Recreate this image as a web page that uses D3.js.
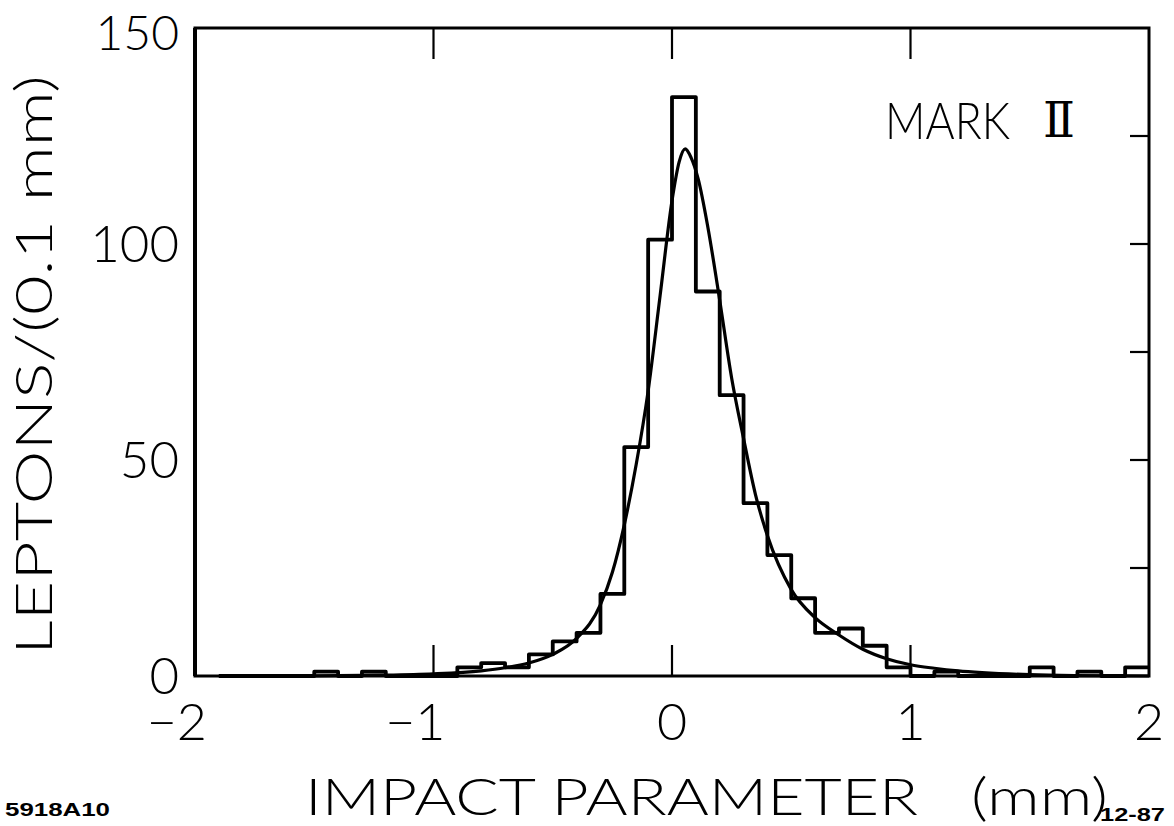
<!DOCTYPE html>
<html>
<head>
<meta charset="utf-8">
<style>
body{margin:0;background:#fff;}
.frame{fill:none;stroke:#000;stroke-width:3.5;}
.tick{stroke:#000;stroke-width:2.2;}
.hist{fill:none;stroke:#000;stroke-width:3.8;stroke-linejoin:round;}
.fit{fill:none;stroke:#000;stroke-width:3.2;}
.lbl{font-family:Lato,Roboto,"Open Sans",sans-serif;font-weight:300;fill:#000;}
.code{font-family:"Liberation Sans",Arial,sans-serif;font-weight:bold;fill:#000;}
</style>
</head>
<body>
<svg id="chart"></svg>
<script src="https://cdn.jsdelivr.net/npm/d3@7"></script>
<script>

// histogram: counts per 0.1 mm bin, first bin starts at -1.9
var binStart = -1.9;
var binWidth = 0.1;
var counts = [0, 0, 0, 0, 1, 0, 1, 0, 0, 0,
              2, 3, 2, 5, 8, 10, 19, 53, 101, 134,
              89, 65, 40, 28, 18, 10, 11, 7, 2, 0,
              1, 0, 0, 0, 2, 0, 1, 0, 2];

// fitted curve
var fitX = [-1.9, -1.5, -1.2, -1.0, -0.8, -0.7, -0.6, -0.5, -0.4, -0.3, -0.25, -0.2, -0.15, -0.1, -0.05,
            0.0, 0.03, 0.055, 0.08, 0.11, 0.15, 0.2, 0.25, 0.3, 0.35, 0.4, 0.5, 0.6, 0.7, 0.8, 0.9,
            1.0, 1.1, 1.2, 1.3, 1.5, 1.7, 2.0];
var fitY = [0, 0.05, 0.2, 0.5, 1.2, 1.9, 3.0, 5.0, 8.7, 16.5, 24, 35, 49, 66, 88,
            110, 119, 122, 120, 115, 104, 87, 69, 55, 42, 32.5, 20, 13.5, 9.5, 6.2, 4,
            2.6, 1.8, 1.2, 0.8, 0.3, 0.1, 0];

var xTicks = [-2, -1, 0, 1, 2];
var xInnerTicks = [-1, 0, 1];
var yTicks = [0, 50, 100, 150];
var yRightTicks = [25, 50, 75, 100, 125];

var W = 1174, H = 826;
var svg = d3.select("#chart").attr("width", W).attr("height", H);

var x = d3.scaleLinear().domain([-2, 2]).range([195, 1149]);
var y = d3.scaleLinear().domain([0, 150]).range([676, 28]);

// histogram as a step line
var steps = [];
counts.forEach(function(c, i){
    var x0 = binStart + i * binWidth;
    steps.push([x0, c]);
    steps.push([x0 + binWidth, c]);
});
var stepLine = d3.line()
    .x(function(d){ return x(d[0]); })
    .y(function(d){ return y(d[1]); });

svg.append("path").datum(steps).attr("class", "hist").attr("d", stepLine);

var fitLine = d3.line()
    .x(function(d){ return x(d[0]); })
    .y(function(d){ return y(d[1]); })
    .curve(d3.curveMonotoneX);

svg.append("path")
    .datum(fitX.map(function(v, i){ return [v, fitY[i]]; }))
    .attr("class", "fit")
    .attr("d", fitLine);

// frame
svg.append("rect").attr("class", "frame")
    .attr("x", x(-2)).attr("y", y(150))
    .attr("width", x(2) - x(-2)).attr("height", y(0) - y(150))
    .style("stroke-width", 3);
svg.append("line").attr("class", "frame")
    .attr("x1", x(-2)).attr("x2", x(-2)).attr("y1", y(150)).attr("y2", y(0))
    .style("stroke-width", 4);

// ticks
svg.selectAll(".tb").data(xInnerTicks).enter().append("line")
    .attr("class", "tick")
    .attr("x1", function(d){ return x(d); }).attr("x2", function(d){ return x(d); })
    .attr("y1", y(0)).attr("y2", y(0) - 31);
svg.selectAll(".tt").data(xInnerTicks).enter().append("line")
    .attr("class", "tick")
    .attr("x1", function(d){ return x(d); }).attr("x2", function(d){ return x(d); })
    .attr("y1", y(150)).attr("y2", y(150) + 31);
svg.selectAll(".tr").data(yRightTicks).enter().append("line")
    .attr("class", "tick")
    .attr("x1", x(2)).attr("x2", x(2) - 19)
    .attr("y1", function(d){ return y(d); }).attr("y2", function(d){ return y(d); });

// tick labels
svg.selectAll(".xl").data(xTicks).enter().append("text")
    .attr("class", "lbl")
    .attr("x", function(d){ return d < 0 ? x(d) + 12 : x(d); })
    .attr("y", 740)
    .attr("text-anchor", function(d){ return d < 0 ? "end" : "middle"; })
    .style("font-size", "52px")
    .text(function(d){ return d < 0 ? "\u2212" + Math.abs(d) : d; });

svg.selectAll(".yl").data(yTicks).enter().append("text")
    .attr("class", "lbl")
    .attr("x", 179)
    .attr("y", function(d){ return d == 150 ? y(d) + 22 : y(d) + 18; })
    .attr("text-anchor", "end")
    .style("font-size", function(d){ return d == 150 ? "48px" : "51px"; })
    .text(function(d){ return d; });

// axis titles
svg.append("text").attr("class", "lbl")
    .attr("x", 305).attr("y", 815)
    .attr("textLength", 613).attr("lengthAdjust", "spacingAndGlyphs")
    .style("font-size", "52px")
    .text("IMPACT PARAMETER");
svg.append("text").attr("class", "lbl")
    .attr("x", 971).attr("y", 815)
    .attr("textLength", 137).attr("lengthAdjust", "spacingAndGlyphs")
    .style("font-size", "52px")
    .text("(mm)");

svg.append("text").attr("class", "lbl")
    .attr("transform", "translate(52,365) rotate(-90)")
    .attr("text-anchor", "middle")
    .attr("textLength", 580).attr("lengthAdjust", "spacingAndGlyphs")
    .style("font-size", "52px")
    .text("LEPTONS/(0.1 mm)");

// legend text
svg.append("text").attr("class", "lbl")
    .attr("x", 885).attr("y", 139)
    .attr("textLength", 125).attr("lengthAdjust", "spacingAndGlyphs")
    .style("font-size", "52px")
    .text("MARK");
svg.append("text").attr("class", "lbl")
    .attr("x", 1043).attr("y", 137)
    .attr("textLength", 32).attr("lengthAdjust", "spacingAndGlyphs")
    .style("font-family", "'DejaVu Serif',serif").style("font-weight", "normal")
    .style("font-size", "48px")
    .text("\u2161");

// figure codes
svg.append("text").attr("class", "code")
    .attr("x", 5).attr("y", 816)
    .attr("textLength", 105).attr("lengthAdjust", "spacingAndGlyphs")
    .style("font-size", "18px")
    .text("5918A10");
svg.append("text").attr("class", "code")
    .attr("x", 1100).attr("y", 821)
    .attr("textLength", 65).attr("lengthAdjust", "spacingAndGlyphs")
    .style("font-size", "18px")
    .text("12-87");

</script>
</body>
</html>
